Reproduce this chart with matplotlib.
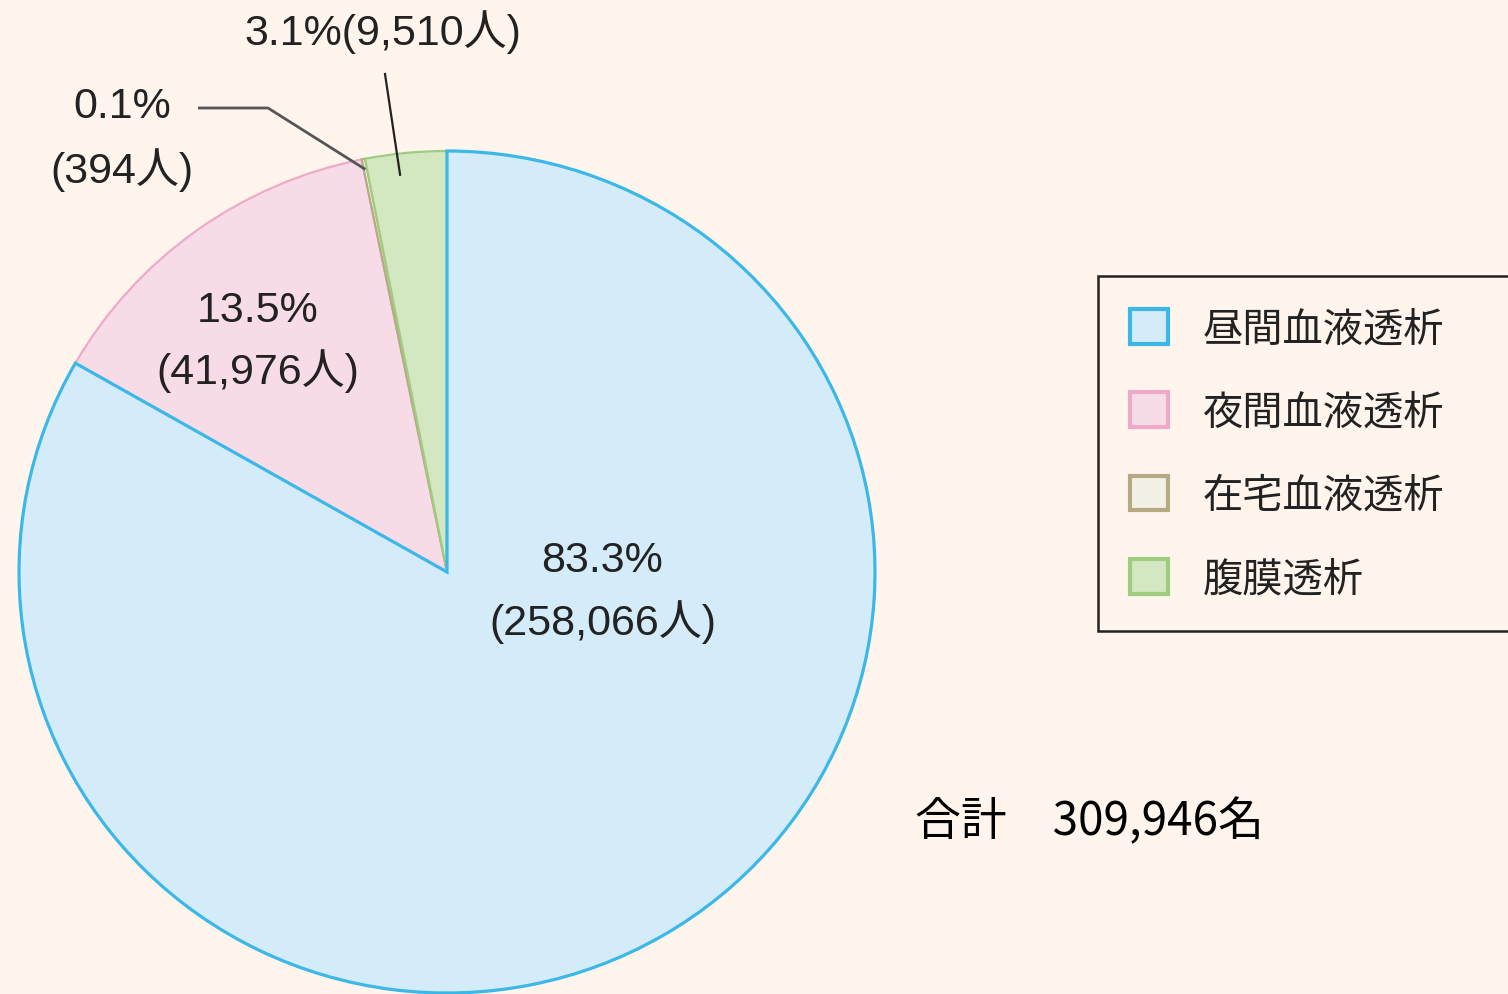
import numpy as np
import matplotlib
matplotlib.use("Agg")
import matplotlib.pyplot as plt
from matplotlib.patches import Patch

# 透析患者の治療方法別内訳
categories = ["昼間血液透析", "夜間血液透析", "在宅血液透析", "腹膜透析"]
patients = [258066, 41976, 394, 9510]
percent_labels = ["83.3%", "13.5%", "0.1%", "3.1%"]
count_labels = ["(258,066人)", "(41,976人)", "(394人)", "(9,510人)"]
total_label = "合計　309,946名"

fills = ["#d4ebf9", "#f7dce7", "#f3f0e6", "#d3e7c1"]
edges = ["#3bb7e8", "#efaac9", "#b8a985", "#9fcd80"]
bg = "#fff5ec"
ink = "#222222"

num_font = ["Liberation Sans", "Noto Sans CJK JP", "DejaVu Sans"]
jp_font = ["Noto Sans CJK JP", "DejaVu Sans"]

W, H = 1508, 995
k = 428 / 421  # the original pie is a touch wider than tall


def Y(py):
    return (H - py) * k


fig = plt.figure(figsize=(W / 100, H / 100), dpi=100, facecolor=bg)
ax = fig.add_axes([0, 0, 1, 1])

cx, cy, R = 447, Y(573), 428
wedges, _ = ax.pie(patients, colors=fills, startangle=90, counterclock=False,
                   center=(cx, cy), radius=R, frame=True,
                   wedgeprops=dict(linewidth=1.6))
for w, ec in zip(wedges, edges):
    w.set_edgecolor(ec)
    w.set_zorder(2)
wedges[0].set_linewidth(2.3)
wedges[0].set_zorder(3)
ax.set_aspect("auto")
ax.set_xlim(0, W)
ax.set_ylim(0, H * k)
ax.axis("off")


def on_wedge(i, frac, t=0.5):
    th = wedges[i].theta1 + t * (wedges[i].theta2 - wedges[i].theta1)
    a = np.deg2rad(th)
    return cx + frac * R * np.cos(a), cy + frac * R * np.sin(a)


fs = 31
# labels inside the big slices
ax.text(602, Y(561), percent_labels[0], ha="center", va="center", fontsize=fs, color=ink, family=num_font)
ax.text(603, Y(622), count_labels[0], ha="center", va="center", fontsize=fs, color=ink, family=num_font)
ax.text(258, Y(311), percent_labels[1], ha="center", va="center", fontsize=fs, color=ink, family=num_font)
ax.text(258, Y(371), count_labels[1], ha="center", va="center", fontsize=fs, color=ink, family=num_font)

# small slices with leader lines
ax.text(122, Y(107), percent_labels[2], ha="center", va="center", fontsize=fs, color=ink, family=num_font)
ax.text(122, Y(170), count_labels[2], ha="center", va="center", fontsize=fs, color=ink, family=num_font)
x2, y2 = on_wedge(2, 0.975)
ax.plot([198, 268, x2], [Y(109), Y(109), y2], color="#555555", lw=2.0, zorder=4,
        solid_capstyle="butt")

ax.text(383, Y(32), percent_labels[3] + count_labels[3], ha="center", va="center",
        fontsize=fs, color=ink, family=num_font)
x3, y3 = on_wedge(3, 0.95, 0.6)
ax.plot([385, x3], [Y(75), y3], color="#222222", lw=1.6, zorder=4)

# legend
handles = [Patch(facecolor=f, edgecolor=e, linewidth=3.0) for f, e in zip(fills, edges)]
leg = ax.legend(handles, categories, loc="upper left",
                bbox_to_anchor=(1098 / W, 1 - 277 / H - 0.01, 460 / W, 0.01), mode="expand",
                prop=dict(family=jp_font, size=29), frameon=True, fancybox=False,
                edgecolor="#222222", facecolor=bg, framealpha=1,
                handlelength=0.95, handleheight=0.95, handletextpad=0.85,
                labelspacing=1.05, borderpad=0.8, borderaxespad=0)
leg.get_frame().set_linewidth(1.8)
for t in leg.get_texts():
    t.set_color(ink)

ax.text(915, Y(822), total_label, ha="left", va="center", fontsize=33, color="black",
        family=jp_font)

fig.savefig("out.png", dpi=100, facecolor=bg)
